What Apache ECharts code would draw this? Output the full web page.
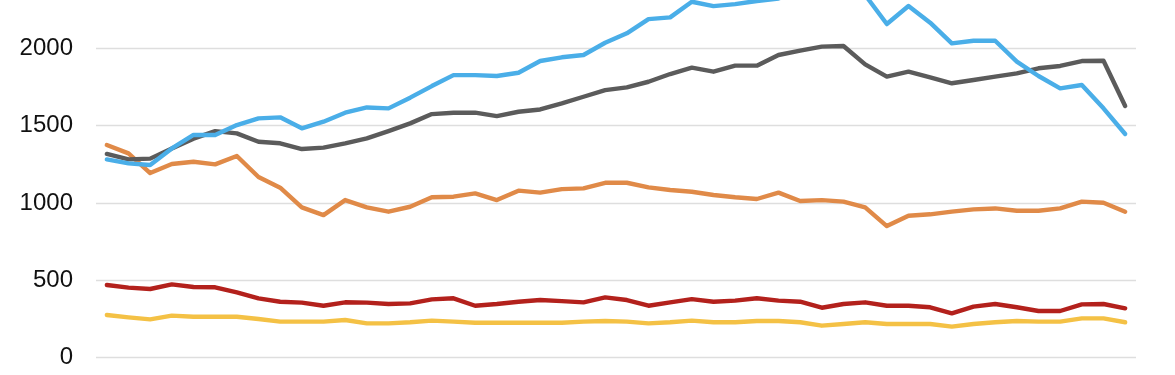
<!DOCTYPE html>
<html>
<head>
<meta charset="utf-8">
<script src="https://cdn.jsdelivr.net/npm/echarts@6/dist/echarts.min.js"></script>
<style>
html,body{margin:0;padding:0;background:#fff;overflow:hidden;width:1175px;height:375px;}
#c{position:absolute;left:0;top:-50px;width:1175px;height:425px;}
</style>
</head>
<body>
<div id="c"></div>
<script>
var categories = ["1","2","3","4","5","6","7","8","9","10","11","12","13","14","15","16","17","18","19","20","21","22","23","24","25","26","27","28","29","30","31","32","33","34","35","36","37","38","39","40","41","42","43","44","45","46","47","48"];
var yTicks = [0, 500, 1000, 1500, 2000];

var blueSeries = [1282,1256,1246,1353,1440,1440,1504,1547,1554,1483,1526,1584,1618,1612,1681,1756,1827,1827,1821,1842,1918,1942,1957,2036,2097,2189,2200,2301,2273,2286,2306,2322,2370,2400,2380,2345,2157,2274,2166,2032,2049,2049,1914,1821,1741,1763,1612,1446];
var graySeries = [1317,1282,1287,1353,1416,1465,1450,1396,1386,1349,1358,1386,1418,1465,1515,1575,1584,1584,1562,1590,1605,1644,1687,1730,1748,1784,1834,1875,1849,1888,1888,1957,1985,2011,2015,1896,1817,1849,1812,1774,1795,1817,1838,1871,1886,1918,1920,1627];
var orangeSeries = [1375,1321,1194,1252,1267,1250,1304,1168,1099,972,922,1019,972,944,976,1037,1041,1062,1019,1080,1067,1090,1095,1131,1131,1101,1084,1073,1052,1037,1026,1067,1013,1019,1009,972,851,918,927,944,959,965,950,950,965,1009,1002,944];
var redSeries = [470,453,444,474,457,455,423,384,362,356,336,358,356,347,351,377,384,336,347,362,373,366,358,390,373,336,358,379,362,369,384,369,362,323,347,358,336,336,326,287,330,347,326,302,302,345,347,319];
var yellowSeries = [276,261,248,272,265,265,265,250,233,233,233,244,222,222,229,240,233,226,226,226,226,226,233,237,233,222,229,240,229,229,237,237,229,207,218,229,218,218,218,201,218,229,237,233,233,254,254,229];

var colors = {blue:'#4aaee8', gray:'#5b5b5b', orange:'#e08a48', red:'#b3211c', yellow:'#f4c145'};

function mk(name, data, color){
  return {name:name, type:'line', data:data, symbol:'none', smooth:false,
    lineStyle:{width:4.4, color:color, cap:'round', join:'round'}, itemStyle:{color:color}, z:2};
}

var chart = echarts.init(document.getElementById('c'), null, {renderer:'canvas'});
chart.setOption({
  animation:false,
  backgroundColor:'#ffffff',
  grid:{left:96, right:39, top:21, bottom:17.3, containLabel:false},
  xAxis:{type:'category', data:categories, boundaryGap:true,
    axisLine:{show:false}, axisTick:{show:false}, axisLabel:{show:false}, splitLine:{show:false}},
  yAxis:{type:'value', min:0, max:2500, interval:500,
    axisLine:{show:false}, axisTick:{show:false},
    axisLabel:{show:true, margin:23, fontSize:24, color:'#111111', fontFamily:'Liberation Sans, Arial, sans-serif',
      formatter:function(v){ return yTicks.indexOf(v) >= 0 ? String(v) : ''; }},
    splitLine:{show:true, lineStyle:{color:'#dedede', width:1.3}}},
  series:[
    mk('yellow', yellowSeries, colors.yellow),
    mk('red', redSeries, colors.red),
    mk('orange', orangeSeries, colors.orange),
    mk('gray', graySeries, colors.gray),
    mk('blue', blueSeries, colors.blue)
  ]
});
</script>
</body>
</html>
